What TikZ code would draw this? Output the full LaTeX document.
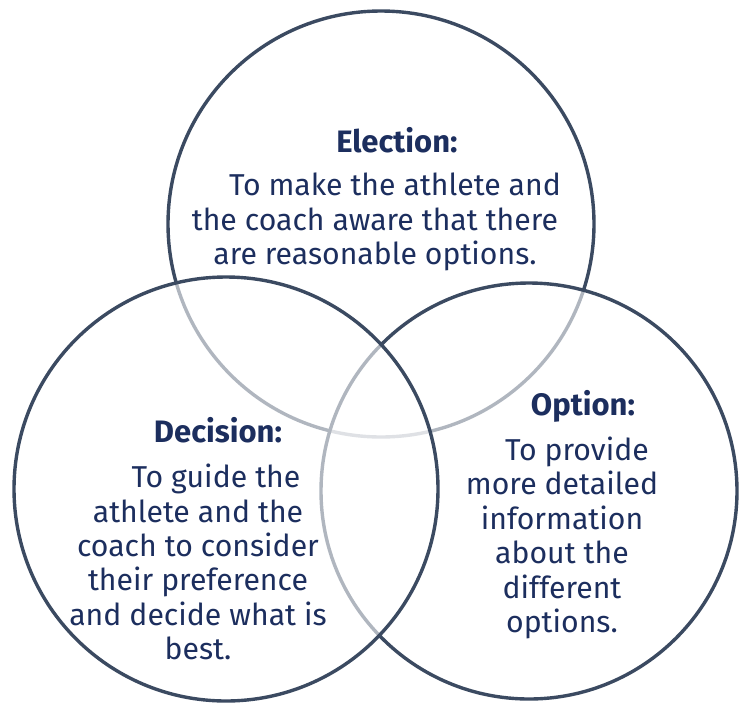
\documentclass[tikz,border=0pt]{standalone}
\usepackage{fontspec}
\setmainfont{Fira Sans}
\definecolor{ring}{HTML}{3B4A61}
\definecolor{ink}{HTML}{1C2E5E}
\tikzset{
  ringline/.style={draw=ring, line width=3.4pt},
  veil/.style={ringline, fill=white, fill opacity=0.6, draw opacity=1},
  head/.style={text=ink, font=\fontsize{31}{34}\selectfont\bfseries, inner sep=0pt},
  body/.style={text=ink, font=\fontsize{30.2}{34.4}\selectfont, align=center, inner sep=0pt},
}
\begin{document}
\begin{tikzpicture}[x=1pt,y=-1pt]
\useasboundingbox (0,0) rectangle (739,702);
\path[ringline] (381,224) circle[radius=213];
\path[veil] (529,491) circle[radius=208];
\path[veil] (226,489) circle[radius=212];
\node[head] (eh) at (397,140) {Election:};
\node[body] (eb) at (375,222) {\hspace*{40pt}To make the athlete and\\the coach aware that there\\are reasonable options.};
\node[head] (dh) at (218,430) {Decision:};
\node[body] (db) at (198,562) {\hspace*{36pt}To guide the\\athlete and the\\coach to consider\\their preference\\and decide what is\\best.};
\node[head] (oh) at (583,406) {Option:};
\node[body] (ob) at (562,538) {\hspace*{30pt}To provide\\more detailed\\information\\about the\\different\\options.};
\end{tikzpicture}
\end{document}
